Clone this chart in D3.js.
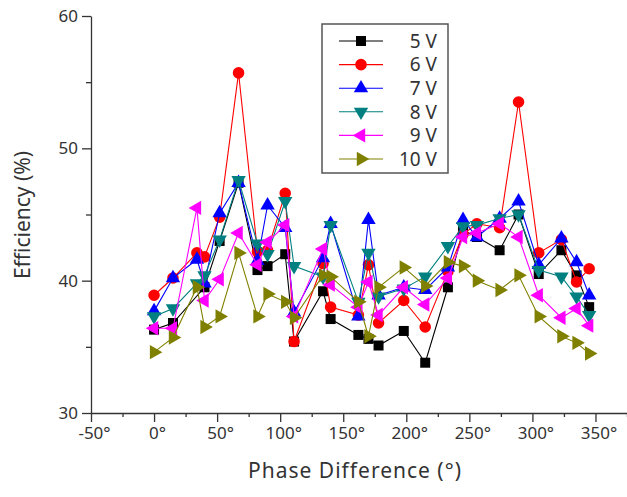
<!DOCTYPE html>
<html>
<head>
<meta charset="utf-8">
<script src="https://cdn.jsdelivr.net/npm/d3@7"></script>
<style>
  body { margin: 0; background: #fff; }
  text { font-family: "Noto Sans", "Open Sans", sans-serif; fill: #333; }
</style>
</head>
<body>
<div id="chart"></div>
<script>
// chart data
const phases = [0, 15, 34, 40, 52, 67, 82, 90, 104, 111, 134, 140, 162, 170, 178, 198, 215, 233, 245, 256, 274, 289, 305, 323, 335, 345];
const v5  = [36.3, 36.8, null, 39.5, 43.0, 47.4, 40.8, 41.1, 42.0, 35.4, 39.2, 37.1, 35.9, 35.6, 35.1, 36.2, 33.8, 39.5, 43.8, 43.3, 42.3, 45.0, 40.5, 42.3, 40.4, 38.0];
const v6  = [38.9, 40.2, 42.1, 41.8, 44.8, 55.7, 42.2, 42.3, 46.6, 35.4, 41.3, 38.0, 37.4, 41.2, 36.8, 38.5, 36.5, 40.7, 43.5, 44.3, 44.0, 53.5, 42.1, 43.1, 39.9, 40.9];
const v7  = [37.7, 40.2, 41.6, 39.8, 45.1, 47.4, 41.5, 45.7, 44.0, 37.6, 41.7, 44.3, 37.3, 44.6, 38.9, 39.5, 39.3, 41.0, 44.6, 43.3, 44.7, 46.0, 41.2, 43.2, 41.4, 38.9];
const v8  = [37.3, 37.9, 39.8, 40.4, 43.1, 47.6, 42.8, 42.0, 46.0, 41.1, 40.3, 44.2, 38.4, 42.1, 38.8, 39.4, 40.3, 42.6, 44.1, 44.2, 44.7, 45.0, 40.8, 40.3, 38.8, 37.4];
const v9  = [36.4, 36.4, 45.5, 38.5, 40.1, 43.6, 41.2, 42.9, 44.2, 37.3, 42.4, 39.7, 38.0, 39.9, 37.4, 39.5, 38.2, 40.2, 43.3, 43.6, 44.3, 43.3, 38.9, 37.2, 37.9, 36.6];
const v10 = [34.6, 35.7, 39.5, 36.5, 37.3, 42.1, 37.3, 39.0, 38.4, 37.2, 40.4, 40.3, 38.4, 35.8, 39.5, 41.0, 39.6, 41.4, 41.1, 40.0, 39.3, 40.4, 37.3, 35.8, 35.3, 34.5];

const seriesNames = ["5 V", "6 V", "7 V", "8 V", "9 V", "10 V"];
const xTicks = [-50, 0, 50, 100, 150, 200, 250, 300, 350];
const yTicks = [30, 40, 50, 60];

// look of each series
const colors = ["#000000", "#ff0000", "#0000ff", "#008080", "#ff00ff", "#808000"];
const shapes = [d3.symbolSquare, d3.symbolCircle, d3.symbolTriangle, d3.symbolTriangle, d3.symbolTriangle, d3.symbolTriangle];
const sizes = [100, 105, 90, 90, 90, 90];
const rotations = [0, 0, 0, 180, -90, 90];

const width = 627;
const height = 497;
const margin = {left: 91, right: 0, top: 16, bottom: 84};

const svg = d3.select("#chart")
    .append("svg")
      .attr("width", width)
      .attr("height", height);

const X_SCALE = d3.scaleLinear()
    .domain([-50, 375])
    .range([margin.left, width - margin.right]);

const Y_SCALE = d3.scaleLinear()
    .domain([30, 60])
    .range([height - margin.bottom, margin.top]);

const allValues = [v5, v6, v7, v8, v9, v10];
const series = seriesNames.map((name, i) => ({
    name: name,
    color: colors[i],
    shape: shapes[i],
    size: sizes[i],
    rot: rotations[i],
    points: phases.map((p, j) => ({x: p, y: allValues[i][j]})).filter(d => d.y !== null)
}));

// minor ticks first
svg.append("g")
    .attr("transform", "translate(0," + Y_SCALE(30) + ")")
    .call(d3.axisBottom(X_SCALE).tickValues(d3.range(-25, 376, 50)).tickSize(4).tickFormat(""))
    .call(g => g.select(".domain").remove());
svg.append("g")
    .attr("transform", "translate(" + X_SCALE(-50) + ",0)")
    .call(d3.axisLeft(Y_SCALE).tickValues([35, 45, 55]).tickSize(5).tickFormat(""))
    .call(g => g.select(".domain").remove());

// x-axis
const xAxis = svg.append("g")
    .attr("transform", "translate(0," + Y_SCALE(30) + ")")
    .call(d3.axisBottom(X_SCALE).tickValues(xTicks).tickSize(9).tickSizeOuter(0)
        .tickFormat(d => d + "\u00b0"));
xAxis.selectAll("text").style("font-size", "17px").attr("dy", "0.85em").attr("dx", "3px");

// y-axis
const yAxis = svg.append("g")
    .attr("transform", "translate(" + X_SCALE(-50) + ",0)")
    .call(d3.axisLeft(Y_SCALE).tickValues(yTicks).tickSize(9).tickSizeOuter(0));
yAxis.selectAll("text").style("font-size", "17px").attr("dx", "-1px");

svg.selectAll(".domain, .tick line").attr("stroke", "#333").attr("stroke-width", 1.3);

// axis titles
svg.append("text")
    .attr("x", 355).attr("y", 478)
    .attr("text-anchor", "middle")
    .style("font-size", "21px")
    .style("letter-spacing", "1px")
    .text("Phase Difference (\u00b0)");

svg.append("text")
    .attr("transform", "translate(30,215) rotate(-90)")
    .attr("text-anchor", "middle")
    .style("font-size", "21px")
    .text("Efficiency (%)");

// series lines and markers
const line = d3.line().x(d => X_SCALE(d.x)).y(d => Y_SCALE(d.y));

series.forEach(s => {
    const g = svg.append("g");
    g.append("path")
        .datum(s.points)
        .attr("fill", "none")
        .attr("stroke", s.color)
        .attr("stroke-width", 1.1)
        .attr("d", line);
    g.selectAll(".mark")
        .data(s.points)
        .enter().append("path")
          .attr("class", "mark")
          .attr("transform", d => "translate(" + X_SCALE(d.x) + "," + Y_SCALE(d.y) + ") rotate(" + s.rot + ")")
          .attr("d", d3.symbol().type(s.shape).size(s.size))
          .attr("fill", s.color);
});

// legend
const legend = svg.append("g").attr("transform", "translate(322,24)");
legend.append("rect")
    .attr("width", 126).attr("height", 149)
    .attr("fill", "#fff")
    .attr("stroke", "#555").attr("stroke-width", 1.5);

series.forEach((s, i) => {
    const yy = 17 + i * 23.6;
    legend.append("line")
        .attr("x1", 17).attr("x2", 61).attr("y1", yy).attr("y2", yy)
        .attr("stroke", s.color).attr("stroke-width", 1.1);
    legend.append("path")
        .attr("transform", "translate(39," + yy + ") rotate(" + s.rot + ")")
        .attr("d", d3.symbol().type(s.shape).size(s.size))
        .attr("fill", s.color);
    legend.append("text")
        .attr("x", 115).attr("y", yy)
        .attr("dy", "0.36em")
        .attr("text-anchor", "end")
        .style("font-size", "19px")
        .text(s.name);
});
</script>
</body>
</html>
